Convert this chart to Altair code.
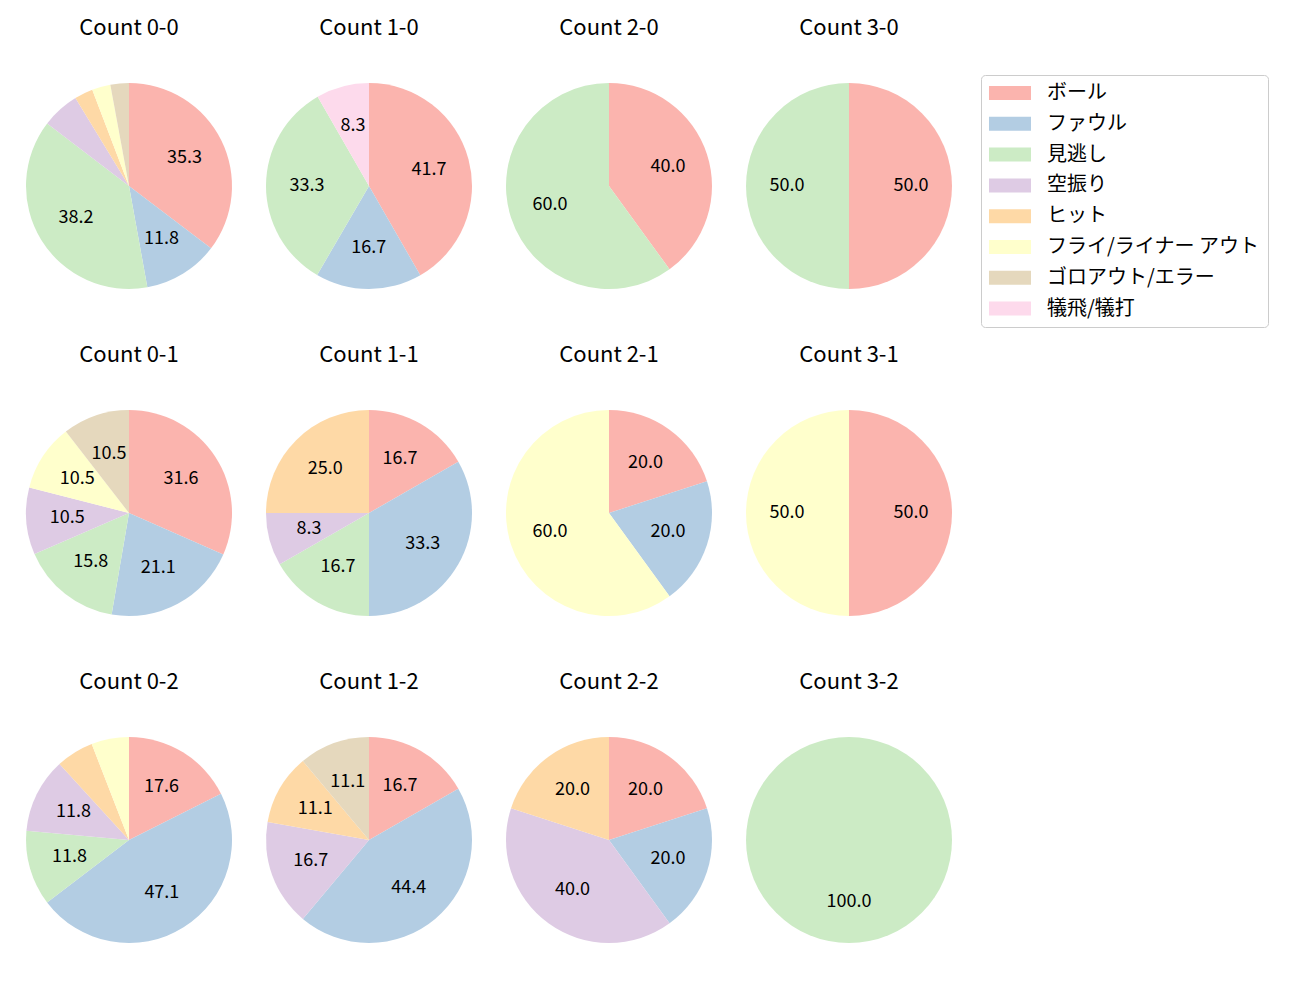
import altair as alt
import pandas as pd

categories = ["ボール", "ファウル", "見逃し", "空振り", "ヒット",
              "フライ/ライナー アウト", "ゴロアウト/エラー", "犠飛/犠打"]
colors = ["#fbb4ae", "#b3cde3", "#ccebc5", "#decbe4", "#fed9a6",
          "#ffffcc", "#e5d8bd", "#fddaec"]

count_labels = ["0-0", "1-0", "2-0", "3-0",
                "0-1", "1-1", "2-1", "3-1",
                "0-2", "1-2", "2-2", "3-2"]

# percentages per category (same order as categories)
pct_0_0 = [35.3, 11.8, 38.2, 5.9, 2.9, 2.9, 2.9, 0]
pct_1_0 = [41.7, 16.7, 33.3, 0, 0, 0, 0, 8.3]
pct_2_0 = [40.0, 0, 60.0, 0, 0, 0, 0, 0]
pct_3_0 = [50.0, 0, 50.0, 0, 0, 0, 0, 0]
pct_0_1 = [31.6, 21.1, 15.8, 10.5, 0, 10.5, 10.5, 0]
pct_1_1 = [16.7, 33.3, 16.7, 8.3, 25.0, 0, 0, 0]
pct_2_1 = [20.0, 20.0, 0, 0, 0, 60.0, 0, 0]
pct_3_1 = [50.0, 0, 0, 0, 0, 50.0, 0, 0]
pct_0_2 = [17.6, 47.1, 11.8, 11.8, 5.9, 5.9, 0, 0]
pct_1_2 = [16.7, 44.4, 0, 16.7, 11.1, 0, 11.1, 0]
pct_2_2 = [20.0, 20.0, 0, 40.0, 20.0, 0, 0, 0]
pct_3_2 = [0, 0, 100.0, 0, 0, 0, 0, 0]

all_pcts = [pct_0_0, pct_1_0, pct_2_0, pct_3_0,
            pct_0_1, pct_1_1, pct_2_1, pct_3_1,
            pct_0_2, pct_1_2, pct_2_2, pct_3_2]

FONT = "Noto Sans CJK JP"
LABEL_MIN = 8

color_scale = alt.Scale(domain=categories, range=colors)


def pie(label, pcts):
    rows = [{"category": c, "idx": i, "value": v}
            for i, (c, v) in enumerate(zip(categories, pcts)) if v > 0]
    df = pd.DataFrame(rows)
    base = alt.Chart(df).encode(
        theta=alt.Theta("value:Q", stack=True),
        order=alt.Order("idx:Q", sort="ascending"),
    )
    arc = base.mark_arc(stroke=None).encode(
        color=alt.Color("category:N", scale=color_scale,
                        sort=categories, title=None),
    )
    text = base.mark_text(radius=62, fontSize=18, font=FONT,
                          color="black", align="center",
                          baseline="middle").encode(
        text=alt.Text("value:Q", format=".1f"),
        detail="category:N",
    ).transform_filter(alt.datum.value >= LABEL_MIN)
    return alt.layer(arc, text).properties(
        width=206, height=206,
        title=alt.TitleParams(f"Count {label}", fontSize=22, font=FONT,
                              fontWeight="normal", color="black",
                              offset=43, anchor="middle"),
    )


charts = [pie(l, p) for l, p in zip(count_labels, all_pcts)]
rows = [alt.hconcat(*charts[i * 4:(i + 1) * 4], spacing=34) for i in range(3)]
chart = alt.vconcat(*rows, spacing=55).configure_view(
    stroke=None
).configure_legend(
    orient="none", legendX=955, legendY=-8,
    strokeColor="#cccccc", cornerRadius=4, padding=8,
    fillColor="white",
    symbolType="M-1.43,-1L4.57,-1L4.57,1L-1.43,1Z",
    symbolSize=196, symbolStrokeWidth=0, symbolOpacity=1,
    labelFontSize=20, labelFont=FONT, labelColor="black",
    labelOffset=38, rowPadding=10.8, labelLimit=400,
).properties(
    padding={"left": 26, "top": 17, "right": 5, "bottom": 5}
)

chart.save("out.html", embed_options={"renderer": "svg", "actions": False})
